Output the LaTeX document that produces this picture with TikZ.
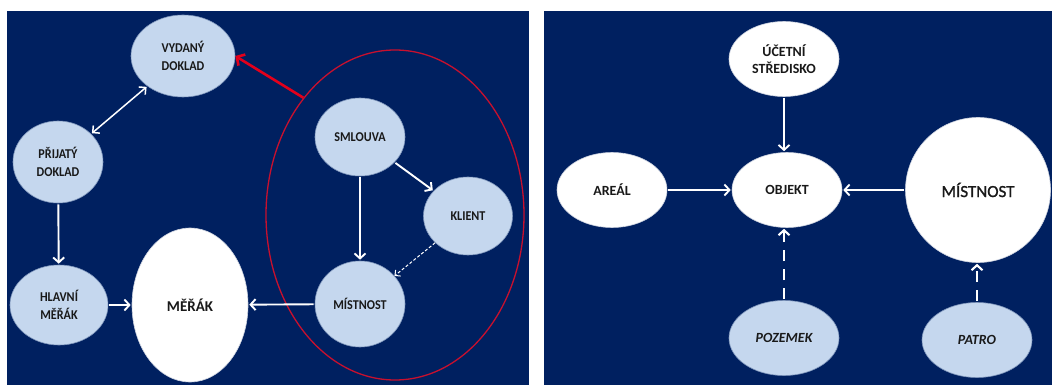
\documentclass[tikz,border=0pt]{standalone}
\usepackage{fontspec}
\setmainfont{Carlito}
\newfontfamily\condfont[FakeStretch=0.9]{Carlito}
\newfontfamily\semibfont[FakeBold=1.3]{Carlito}
\usetikzlibrary{arrows.meta,shapes.geometric}
\definecolor{navy}{HTML}{002060}
\definecolor{lblue}{HTML}{C5D7EE}
\definecolor{redring}{HTML}{C8102E}
\definecolor{redarrow}{HTML}{E3001B}
\begin{document}
\begin{tikzpicture}[x=1pt,y=-1pt,
  lnode/.style={ellipse, fill=lblue, draw=lblue!65!navy, line width=0.6pt, inner sep=0pt, align=center,
    font=\condfont\fontsize{13.5}{18}\selectfont\bfseries, text=black!90},
  wnode/.style={ellipse, fill=white, draw=white!80!navy, line width=0.6pt, inner sep=0pt, align=center,
    font=\fontsize{14}{16.5}\selectfont\bfseries, text=black!90},
  arr/.style={draw=white, line width=1.9pt, -{Straight Barb[length=5pt,width=11pt]}, shorten >=1pt, shorten <=1pt},
  darr/.style={arr, line width=2.1pt, dash pattern=on 11pt off 8pt},
  tarr/.style={draw=white, line width=1pt, dash pattern=on 3pt off 2pt, -{Straight Barb[length=4pt,width=8pt]}},
  redarr/.style={draw=redarrow, line width=2.6pt, -{Straight Barb[length=6pt,width=13pt]}}
]
\useasboundingbox (0,0) rectangle (1052,385);
\fill[white] (0,0) rectangle (1052,385);
\fill[navy] (7,11) rectangle (529,385);
\fill[navy] (544,11) rectangle (1052,385);

% ---------- left panel ----------
\node[ellipse, draw=redring, line width=1.3pt, inner sep=0pt,
  minimum width=258pt, minimum height=330pt] (grp) at (395,215) {};

\node[lnode, minimum width=104pt, minimum height=82pt] (vyd) at (183,56) {VYDANÝ\\DOKLAD};
\node[lnode, minimum width=90pt, minimum height=82pt] (prij) at (58,162) {PŘIJATÝ\\DOKLAD};
\node[lnode, minimum width=98pt, minimum height=80pt] (hlav) at (59,305) {HLAVNÍ\\MĚŘÁK};
\node[wnode, minimum width=116pt, minimum height=154pt, font=\fontsize{15}{18}\selectfont\bfseries] (merak) at (190,305) {MĚŘÁK};
\node[lnode, minimum width=90pt, minimum height=78pt] (sml) at (360,137) {SMLOUVA};
\node[lnode, minimum width=89pt, minimum height=78pt] (kli) at (468,216) {KLIENT};
\node[lnode, minimum width=90pt, minimum height=86pt] (mist) at (360,304) {MÍSTNOST};

\draw[arr, {Straight Barb[length=5pt,width=10pt]}-{Straight Barb[length=5pt,width=10pt]}, line width=1.5pt] (prij) -- (vyd);
\draw[arr] (prij) -- (hlav);
\draw[arr] (hlav) -- (merak);
\draw[arr] (mist) -- (merak);
\draw[arr] (sml) -- (mist);
\draw[arr] (sml) -- (kli);
\draw[tarr] (kli) -- (mist);
\draw[redarr] (grp.128.6) -- (vyd.east);

% ---------- right panel ----------
\node[wnode, minimum width=110pt, minimum height=75pt] (uc) at (784,59) {ÚČETNÍ\\STŘEDISKO};
\node[wnode, minimum width=110pt, minimum height=75pt] (are) at (612,190) {AREÁL};
\node[wnode, minimum width=110pt, minimum height=75pt] (obj) at (787,190) {OBJEKT};
\node[wnode, minimum width=145pt, minimum height=145pt, font=\semibfont\fontsize{17}{20}\selectfont] (mst) at (978,190) {MÍSTNOST};
\node[lnode, minimum width=110pt, minimum height=75pt, font=\fontsize{14}{16}\selectfont\bfseries\itshape] (poz) at (784,338) {POZEMEK};
\node[lnode, minimum width=110pt, minimum height=75pt, font=\fontsize{14}{16}\selectfont\bfseries\itshape] (pat) at (977,340) {PATRO};

\draw[arr] (uc.south) -- (uc.south |- obj.north);
\draw[arr] (are) -- (obj);
\draw[arr] (mst) -- (obj);
\draw[darr] (poz.north) -- (poz.north |- obj.south);
\draw[darr] (pat.north) -- (pat.north |- mst.south);
\end{tikzpicture}
\end{document}
